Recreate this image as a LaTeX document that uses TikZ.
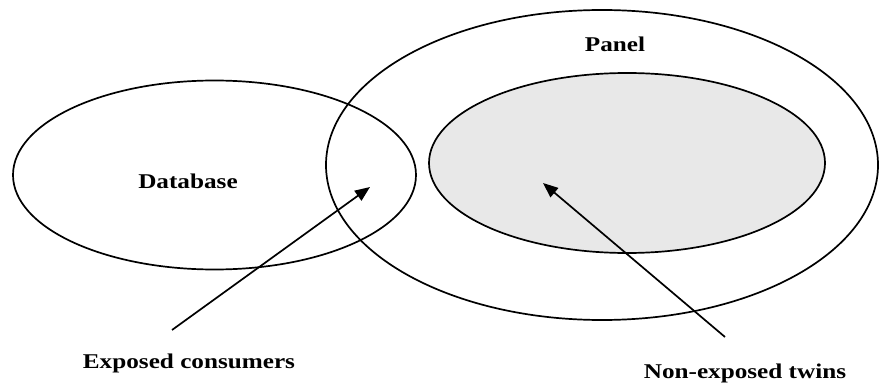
\documentclass[tikz,border=0pt]{standalone}
\usepackage{fontspec}
\setmainfont{Liberation Serif}[FakeStretch=1.2]
\usetikzlibrary{arrows.meta,shapes.geometric}
\definecolor{innergray}{HTML}{E8E8E8}
\tikzset{
  setline/.style={draw=black, line width=1.7pt},
  lbl/.style={font=\fontsize{21}{24}\selectfont\bfseries, anchor=base, inner sep=0pt},
  pointer/.style={line width=1.7pt, -{Triangle[length=15pt,width=12pt]}}
}
\begin{document}
\begin{tikzpicture}[x=1pt,y=-1pt]
\useasboundingbox (0,0) rectangle (880,385);
% ellipses
\draw[setline] (214.5,175) ellipse [x radius=201.5, y radius=94.5];
\draw[setline] (602,165) ellipse [x radius=276, y radius=155];
\draw[setline, fill=innergray] (627,163) ellipse [x radius=198, y radius=90];
% labels
\node[lbl] (db) at (188,188) {Database};
\node[lbl] (panel) at (615,52) {Panel};
\node[lbl] (exp) at (189,368) {Exposed consumers};
\node[lbl] (nonexp) at (745,378) {Non-exposed twins};
% pointer coordinates
\coordinate (a1s) at (172,330);
\coordinate (a1e) at (370,187);
\coordinate (a2s) at (725,337);
\coordinate (a2e) at (543,183);
\draw[pointer] (a1s) -- (a1e);
\draw[pointer] (a2s) -- (a2e);
\end{tikzpicture}
\end{document}
